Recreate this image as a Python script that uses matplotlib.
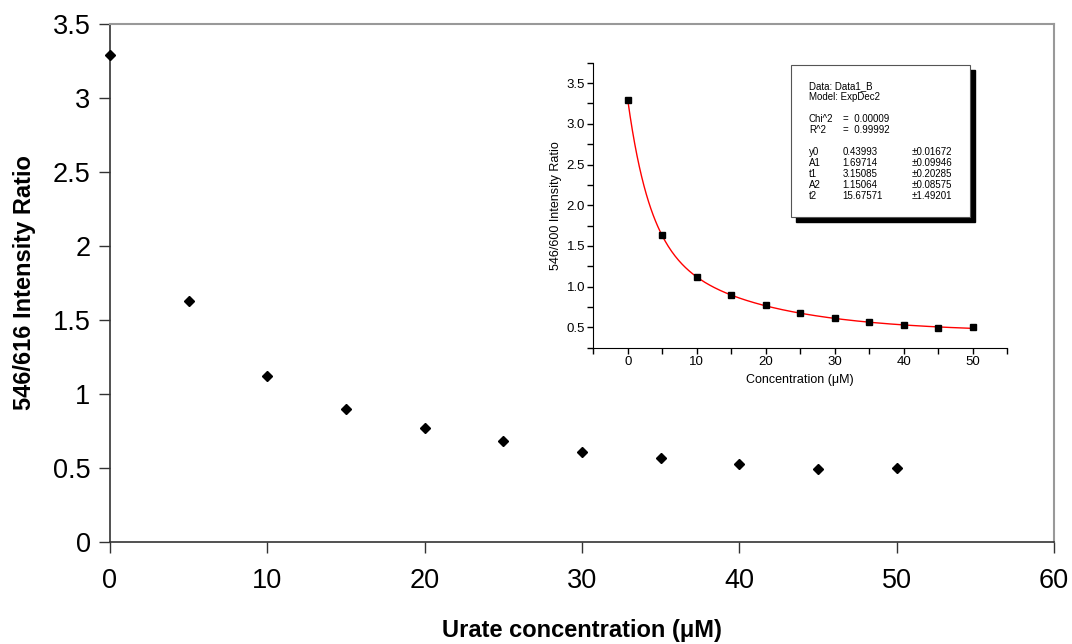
import numpy as np
import matplotlib
matplotlib.use('Agg')
import matplotlib.pyplot as plt
from matplotlib.patches import Rectangle
from matplotlib.ticker import MultipleLocator

plt.rcParams['font.family'] = ['Liberation Sans', 'DejaVu Sans']

# data
conc = [0, 5, 10, 15, 20, 25, 30, 35, 40, 45, 50]
ratio = [3.29, 1.63, 1.12, 0.90, 0.77, 0.68, 0.61, 0.57, 0.53, 0.49, 0.50]

# ExpDec2 fit parameters as printed in the inset box
y0, A1, t1, A2, t2 = 0.43993, 1.69714, 3.15085, 1.15064, 15.67571

box_lines = [
    ("Data: Data1_B", "", ""),
    ("Model: ExpDec2", "", ""),
    ("", "", ""),
    ("Chi^2", "=  0.00009", ""),
    ("R^2", "=  0.99992", ""),
    ("", "", ""),
    ("y0", "0.43993", "\u00b10.01672"),
    ("A1", "1.69714", "\u00b10.09946"),
    ("t1", "3.15085", "\u00b10.20285"),
    ("A2", "1.15064", "\u00b10.08575"),
    ("t2", "15.67571", "\u00b11.49201"),
]

fig = plt.figure(figsize=(10.72, 6.44), dpi=100)

# main chart
ax = fig.add_axes([0.1026, 0.1584, 0.8806, 0.8043])
ax.plot(conc, ratio, 'D', color='black', markersize=5.5, clip_on=False, zorder=3)
ax.set_xlim(0, 60)
ax.set_ylim(0, 3.5)
ax.set_xticks(np.arange(0, 61, 10))
ax.set_yticks(np.arange(0, 3.51, 0.5))
ax.set_yticklabels(['0', '0.5', '1', '1.5', '2', '2.5', '3', '3.5'])
ax.tick_params(direction='out', length=8, width=1, labelsize=19.5, colors='#333333',
               labelcolor='black', pad=6)
ax.tick_params(axis='x', pad=11)
for s in ['left', 'bottom']:
    ax.spines[s].set_color('#333333')
    ax.spines[s].set_linewidth(1.2)
for s in ['top', 'right']:
    ax.spines[s].set_color('#999999')
    ax.spines[s].set_linewidth(1.5)
ax.set_xlabel('Urate concentration (\u03bcM)', fontsize=17, fontweight='bold', labelpad=18)
ax.set_ylabel('546/616 Intensity Ratio', fontsize=17, fontweight='bold', labelpad=12)

# inset with fit
axi = fig.add_axes([0.5535, 0.4601, 0.3859, 0.4425])
xf = np.linspace(0, 50, 300)
yf = y0 + A1 * np.exp(-xf / t1) + A2 * np.exp(-xf / t2)
axi.plot(xf, yf, color='red', lw=1.0, zorder=2)
axi.plot(conc, ratio, 's', color='black', markersize=5, zorder=3)
axi.set_xlim(-5, 55)
axi.set_ylim(0.25, 3.75)
axi.xaxis.set_major_locator(MultipleLocator(10))
axi.xaxis.set_minor_locator(MultipleLocator(5))
axi.yaxis.set_major_locator(MultipleLocator(0.5))
axi.yaxis.set_minor_locator(MultipleLocator(0.25))
axi.set_xticks(np.arange(0, 51, 10))
axi.set_yticks(np.arange(0.5, 3.51, 0.5))
axi.set_yticklabels(['%.1f' % v for v in np.arange(0.5, 3.51, 0.5)])
axi.tick_params(which='major', direction='out', length=4, width=1, labelsize=9.5, pad=2)
axi.tick_params(which='minor', direction='out', length=4, width=1)
axi.spines['top'].set_visible(False)
axi.spines['right'].set_visible(False)
axi.set_xlabel('Concentration (\u03bcM)', fontsize=9, labelpad=4)
axi.set_ylabel('546/600 Intensity Ratio', fontsize=9, labelpad=3)

# parameter box with drop shadow
bx, by, bw, bh = 0.478, 0.4586, 0.4326, 0.5334
axi.add_patch(Rectangle((bx + 0.012, by - 0.0175), bw, bh, transform=axi.transAxes,
                        facecolor='black', edgecolor='black', clip_on=False, zorder=4))
axi.add_patch(Rectangle((bx, by), bw, bh, transform=axi.transAxes,
                        facecolor='white', edgecolor='#555555', lw=0.8, clip_on=False, zorder=5))
line_top = 0.919
line_step = 11 / 285.0
for i, (c1, c2, c3) in enumerate(box_lines):
    yy = line_top - i * line_step
    axi.text(0.521, yy, c1, transform=axi.transAxes, fontsize=7, va='center', zorder=6)
    axi.text(0.603, yy, c2, transform=axi.transAxes, fontsize=7, va='center', zorder=6)
    axi.text(0.770, yy, c3, transform=axi.transAxes, fontsize=7, va='center', zorder=6)

fig.savefig('out.png', dpi=100)
